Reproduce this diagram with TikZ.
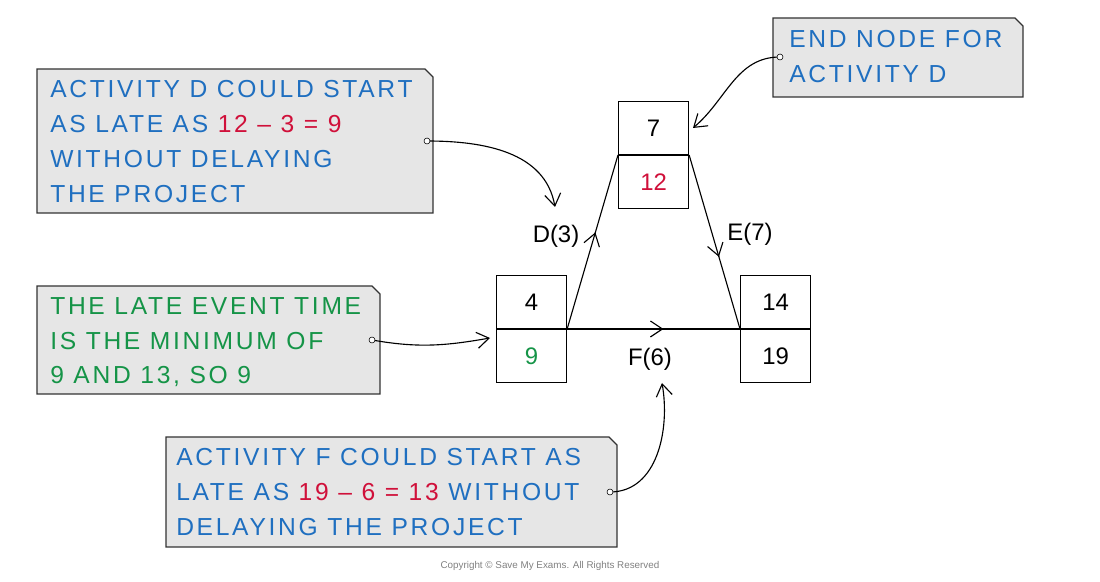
\documentclass[tikz,border=0pt]{standalone}
\usepackage{fontspec}
\setmainfont{Liberation Sans}
\newfontfamily\notefont[LetterSpace=11]{Liberation Sans}
\usetikzlibrary{positioning,arrows.meta}
\definecolor{noteblue}{HTML}{1F6FC0}
\definecolor{notegreen}{HTML}{159447}
\definecolor{notered}{HTML}{D0103A}
\definecolor{notegray}{HTML}{E6E6E6}
\tikzset{
    cell/.style={draw, line width=0.8pt, minimum width=1.75cm, minimum height=1.32cm,
        font=\fontsize{17}{20}\selectfont, inner sep=0pt},
    note/.style={align=left, anchor=north west, inner sep=0pt,
        font=\notefont\fontsize{17.5}{24.8}\selectfont},
    act/.style={font=\fontsize{17}{20}\selectfont},
    callout/.style={draw=black!80, fill=notegray, line width=0.8pt},
    link/.style={line width=0.8pt, -{Straight Barb[length=3mm,width=4mm]}},
    tail/.style={circle, draw, fill=white, inner sep=0pt, minimum size=1.5mm}
}
\newcommand{\cutbox}[4]{% x1 y1 x2 y2
    \draw[callout] (#1,#2) -- (#3-8,#2) -- (#3,#2+8) -- (#3,#4) -- (#1,#4) -- cycle;}
\begin{document}
\begin{tikzpicture}[x=0.025cm, y=-0.025cm]
    \useasboundingbox (0,0) rectangle (1100,582);
    % callout boxes
    \cutbox{37}{69}{433}{213}
    \cutbox{37}{286}{380}{394}
    \cutbox{166}{437}{617}{547}
    \cutbox{773}{18}{1023}{97}
    \node[note, text=noteblue] (lateD) at (50,80) {ACTIVITY D COULD START\\AS LATE AS \textcolor{notered}{12 \textendash{} 3 = 9}\\WITHOUT DELAYING\\THE PROJECT};
    \node[note, text=notegreen] (minimum) at (50,297) {THE LATE EVENT TIME\\IS THE MINIMUM OF\\9 AND 13, SO 9};
    \node[note, text=noteblue] (lateF) at (176,448) {ACTIVITY F COULD START AS\\LATE AS \textcolor{notered}{19 \textendash{} 6 = 13} WITHOUT\\DELAYING THE PROJECT};
    \node[note, text=noteblue] (endD) at (789,30) {END NODE FOR\\ACTIVITY D};
    % event nodes
    \node[cell, anchor=south west] (e7) at (618,155) {7};
    \node[cell, below=0pt of e7, text=notered] (l7) {12};
    \node[cell, anchor=south west] (e4) at (496,329) {4};
    \node[cell, below=0pt of e4, text=notegreen] (l4) {9};
    \node[cell, anchor=south west] (e14) at (740,329) {14};
    \node[cell, below=0pt of e14] (l14) {19};
    % activities
    \draw[line width=0.8pt] (e4.south east) -- (e7.south west)
        node[pos=0.52, sloped, allow upside down] {\tikz\draw[line width=0.8pt,-{Straight Barb[length=3mm,width=4mm]}] (0,0) -- (0.01,0);};
    \draw[line width=0.8pt] (e7.south east) -- (e14.south west)
        node[pos=0.55, sloped] {\tikz\draw[line width=0.8pt,-{Straight Barb[length=3mm,width=4mm]}] (0,0) -- (0.01,0);};
    \draw[line width=0.8pt] (e4.south east) -- (e14.south west)
        node[pos=0.52, sloped] {\tikz\draw[line width=0.8pt,-{Straight Barb[length=3mm,width=4mm]}] (0,0) -- (0.01,0);};
    \node[act] (D) at (556,236) {D(3)};
    \node[act] (E) at (750,234) {E(7)};
    \node[act] (F) at (650,359) {F(6)};
    % pointers
    \coordinate (tD) at (427,141);
    \coordinate (tM) at (372,340);
    \coordinate (tF) at (610,492);
    \coordinate (tE) at (780,57);
    \draw[link] (tD) to[out=0, in=100] (555,207);
    \draw[link] (tM) to[out=-10, in=190] (490,338);
    \draw[link] (tF) to[out=0, in=-80] (662,383);
    \draw[link] (tE) to[out=180, in=40] (693,128);
    \foreach \t in {tD,tM,tF,tE} \node[tail] at (\t) {};
    \node[font=\fontsize{7}{8}\selectfont, text=black!50] (copy) at (550,566) {Copyright © Save My Exams. All Rights Reserved};
\end{tikzpicture}
\end{document}
